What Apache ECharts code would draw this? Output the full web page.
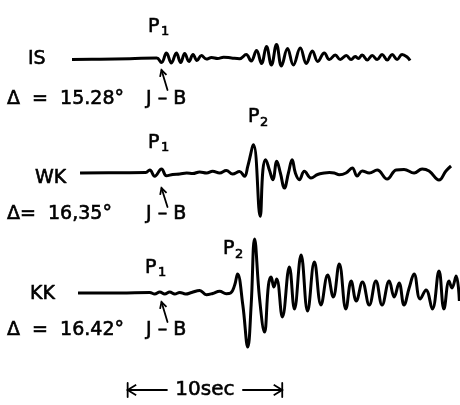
<!DOCTYPE html>
<html><head><meta charset="utf-8">
<script src="https://cdn.jsdelivr.net/npm/echarts@6/dist/echarts.min.js"></script>
<style>html,body{margin:0;padding:0;background:#fff}#c{width:460px;height:405px}</style>
</head><body><div id="c"></div>
<script>
// Station names and epicentral distances
const stations = ['IS', 'WK', 'KK'];
const distances = ['Δ  =  15.28°', 'Δ=  16,35°', 'Δ  =  16.42°'];
// Time (s) vs trace amplitude (arbitrary units), read from the record
const traceIS = [[0,-1.5],[1.81,-1.2],[3.74,-0.7],[5.48,0],[5.79,-4.5],[6.11,5],[6.43,-5],[6.75,5],[7.03,-4.5],[7.29,4.5],[7.57,-3.5],[7.83,3.5],[8.08,-2.5],[8.37,2.5],[8.69,-1],[9.03,0.5],[9.42,-0.5],[9.81,0.8],[10.32,0],[10.84,-0.7],[11.27,3.5],[11.59,-3],[11.94,7.5],[12.26,-5.5],[12.58,11.5],[12.90,-7],[13.23,13.5],[13.55,-8],[13.94,9.5],[14.32,-7],[14.77,10],[15.16,-5.5],[15.55,7],[15.90,-3.5],[16.32,5],[16.65,-1.5],[17.03,3],[17.35,-1.5],[17.74,2.5],[18.06,-1.5],[18.32,1.5],[18.52,-0.5],[18.77,3],[19.10,-2],[19.42,2.5],[19.74,-1.5],[20.06,3.5],[20.39,-2],[20.71,3.5],[21.03,-1.5],[21.35,3.5],[21.68,1],[21.87,-2.5]];
const traceWK = [[0.52,0],[3.10,0.3],[4.77,0.5],[5.03,3],[5.35,-3.3],[5.79,4],[6.11,-2.7],[6.52,-1.5],[6.97,-1],[7.42,0],[7.81,-0.5],[8.26,1],[8.71,0],[9.10,1.7],[9.55,0],[9.98,2.5],[10.39,-1],[10.84,1.5],[11.16,-3.3],[11.37,6.7],[11.74,28.3],[12.17,-43.3],[12.35,3],[12.52,13.3],[12.77,3],[12.99,-6.7],[13.25,11.7],[13.48,0],[13.74,-15],[14.00,0],[14.24,13.3],[14.45,0],[14.71,-6.7],[15.03,1.7],[15.46,-5],[15.89,-1.5],[16.32,0],[16.65,0.5],[16.97,0],[17.29,-1.7],[17.72,0],[18.13,5],[18.45,-3],[18.77,2],[19.23,0],[19.74,3],[20.39,-6],[20.97,3],[21.48,3.5],[22.13,0],[22.65,4],[23.10,2],[23.74,-7],[24.19,2],[24.52,7]];
const traceKK = [[0.39,0],[3.10,0],[5.03,0.5],[5.35,-1],[5.68,1],[6.00,-1],[6.32,1],[6.65,-1],[6.97,0.5],[7.35,-1],[7.74,0.5],[8.26,2.5],[8.69,-1.7],[9.10,-0.5],[9.55,1.7],[9.98,-0.7],[10.26,0],[10.52,7.7],[10.71,19],[11.05,-12],[11.37,-54],[11.59,-12],[11.81,54],[12.13,-5],[12.45,-39],[12.71,8],[12.88,16],[13.06,6],[13.24,14],[13.61,-24],[14.06,26],[14.39,-16],[14.82,38],[15.24,-18],[15.68,31],[16.11,-12],[16.54,18],[16.90,-4],[17.29,29],[17.72,-16],[18.06,12],[18.39,-8],[18.79,11],[19.23,-12],[19.66,12],[20.06,-12],[20.52,12],[20.84,-4],[21.16,10],[21.48,-12],[21.81,5],[22.13,19],[22.52,-6],[22.90,3],[23.31,-16],[23.74,22],[24.06,-16],[24.39,12],[24.58,5],[24.85,17],[25.06,-8]];
const traces = [traceIS, traceWK, traceKK];
const jbTime = 5.79;          // J-B predicted arrival (s)
const scaleBar = [3.6, 13.6]; // 10 sec bar
const scaleLabel = '10sec';

const FONT = '"DejaVu Sans", sans-serif';
const T_MAX = 25.1, PX_PER_S = 15.5;
const gridDefs = [
  {top: 38, height: 40, min: -20, max: 20},
  {top: 123, height: 100, min: -50, max: 50},
  {top: 233, height: 120, min: -60, max: 60}
];
const chart = echarts.init(document.getElementById('c'), null, {renderer: 'canvas'});
chart.setOption({
  animation: false,
  backgroundColor: '#fff',
  grid: gridDefs.map(g => ({left: 72, width: T_MAX * PX_PER_S, top: g.top, height: g.height})),
  xAxis: gridDefs.map((g, i) => ({type: 'value', gridIndex: i, min: 0, max: T_MAX, show: false})),
  yAxis: gridDefs.map((g, i) => ({type: 'value', gridIndex: i, min: g.min, max: g.max, show: false})),
  series: traces.map((d, i) => ({
    type: 'line', xAxisIndex: i, yAxisIndex: i, data: d, showSymbol: false, smooth: 0.42,
    clip: false, lineStyle: {color: '#000', width: 3}
  }))
});

function txt(s, x, y, size, align) {
  return {type: 'text', style: {text: s, x: x, y: y, font: size + 'px ' + FONT, fill: '#000',
    stroke: '#000', lineWidth: 0.6,
    align: align || 'left', verticalAlign: 'middle', textAlign: align || 'left', textVerticalAlign: 'middle'}};
}
function seg(x1, y1, x2, y2, w) {
  return {type: 'line', shape: {x1, y1, x2, y2}, style: {stroke: '#000', lineWidth: w || 1.8, lineCap: 'round'}};
}
function head(tx, ty, fx, fy, len, ang) {
  const a = Math.atan2(fy - ty, fx - tx);
  const p1 = [tx + len * Math.cos(a + ang), ty + len * Math.sin(a + ang)];
  const p2 = [tx + len * Math.cos(a - ang), ty + len * Math.sin(a - ang)];
  return {type: 'polyline', shape: {points: [p1, [tx, ty], p2]}, style: {stroke: '#000', fill: null, lineWidth: 1.8, lineJoin: 'miter'}};
}
const G = [];
const labelY = [59, 178, 294];
const labelX = [28, 35, 30];
const distY = [99, 214, 330];
const pPos = [[148, 27], [148, 143], [145, 268]];
const arrowY = [[70, 90], [188, 207], [302, 322]];
stations.forEach((s, i) => {
  G.push(txt(s, labelX[i], labelY[i], 19));
  G.push(txt(distances[i], 7, distY[i], 19));
  G.push(txt('J – B', 146, distY[i], 19));
  G.push(txt('P', pPos[i][0], pPos[i][1], 19));
  G.push(txt('1', pPos[i][0] + 13, pPos[i][1] + 5, 13));
  const tipX = chart.convertToPixel({xAxisIndex: i}, jbTime);
  const tailX = tipX + 6;
  G.push(seg(tailX, arrowY[i][1], tipX, arrowY[i][0]));
  G.push(head(tipX, arrowY[i][0], tailX, arrowY[i][1], 7, 0.5));
});
// P2 labels
G.push(txt('P', 248, 117, 19)); G.push(txt('2', 260, 123, 13));
G.push(txt('P', 223, 249, 19)); G.push(txt('2', 235, 255, 13));
// scale bar
const bx1 = chart.convertToPixel({xAxisIndex: 2}, scaleBar[0]);
const bx2 = chart.convertToPixel({xAxisIndex: 2}, scaleBar[1]);
const by = 390, mid = (bx1 + bx2) / 2, half = 38;
G.push(seg(bx1, by - 7, bx1, by + 7));
G.push(seg(bx2, by - 7, bx2, by + 7));
G.push(seg(bx1, by, mid - half, by));
G.push(seg(mid + half, by, bx2, by));
G.push(head(bx1, by, bx1 + 10, by, 10, 0.55));
G.push(head(bx2, by, bx2 - 10, by, 10, 0.55));
G.push(txt(scaleLabel, mid, by, 20, 'center'));
chart.setOption({graphic: {elements: G}});
</script></body></html>
